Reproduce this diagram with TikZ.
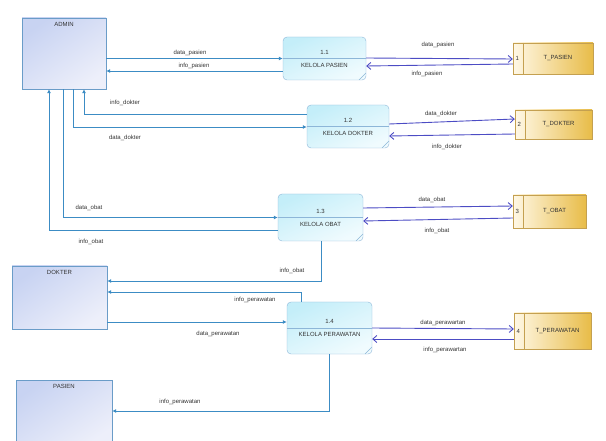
\documentclass[tikz,border=0pt]{standalone}
\usepackage{fontspec}
\setmainfont{Liberation Sans}
\usetikzlibrary{arrows.meta,positioning}
\definecolor{entline}{HTML}{6A9CC8}
\definecolor{enttop}{HTML}{C8D3F2}
\definecolor{entbot}{HTML}{EDEFFA}
\definecolor{procline}{HTML}{8DB6D8}
\definecolor{proctop}{HTML}{C4EEF9}
\definecolor{procbot}{HTML}{F0FBFE}
\definecolor{storeline}{HTML}{C4A050}
\definecolor{storeleft}{HTML}{FFF8E6}
\definecolor{storeright}{HTML}{E8BC48}
\definecolor{flowblue}{HTML}{3C8CC4}
\definecolor{flowpurple}{HTML}{4C4CC4}
\definecolor{txt}{HTML}{333333}
\begin{document}
\begin{tikzpicture}[x=1pt,y=-1pt,
    every node/.style={font=\fontsize{6}{7}\selectfont,text=txt},
    lbl/.style={inner sep=0pt},
    entity/.style={draw=entline,top color=enttop,bottom color=entbot,shading angle=35,inner sep=0pt},
    proc/.style={draw=procline,rounded corners=4pt,top color=proctop,bottom color=procbot,shading angle=25,align=center,inner sep=0pt,
        path picture={
            \draw[procline] (path picture bounding box.west) -- (path picture bounding box.east);
            \draw[procline] ([xshift=-7pt]path picture bounding box.south east) -- ([yshift=7pt]path picture bounding box.south east);}},
    store/.style={draw=storeline,left color=storeleft,right color=storeright,inner sep=0pt,
        path picture={
            \draw[storeline] ([xshift=10pt]path picture bounding box.north west) -- ([xshift=10pt]path picture bounding box.south west);}},
    flow/.style={draw=flowblue,line width=0.8pt,-{Latex[length=4pt,width=4pt]}},
    dflow/.style={draw=flowpurple,line width=0.9pt,-{Straight Barb[length=4pt,width=7pt]}}]
    \useasboundingbox (0,0) rectangle (606,441);

    % external entities
    \node[entity,minimum width=84pt,minimum height=71pt] (admin) at (64,53.5) {};
    \node[lbl,below=4pt of admin.north] (admin_t) {ADMIN};
    \node[entity,minimum width=95pt,minimum height=63pt] (dokter) at (59.5,297.5) {};
    \node[lbl,below=4pt of dokter.north] (dokter_t) {DOKTER};
    \node[entity,minimum width=96pt,minimum height=66pt] (pasien) at (64,413) {};
    \node[lbl,below=4pt of pasien.north] (pasien_t) {PASIEN};

    % processes
    \node[proc,minimum width=83pt,minimum height=43pt] (p1) at (324.5,58.5) {1.1\\[6pt]KELOLA PASIEN};
    \node[proc,minimum width=82pt,minimum height=43pt] (p2) at (348,126.5) {1.2\\[6pt]KELOLA DOKTER};
    \node[proc,minimum width=85pt,minimum height=47pt] (p3) at (320.5,217.5) {1.3\\[6pt]KELOLA OBAT};
    \node[proc,minimum width=85pt,minimum height=52pt] (p4) at (329.5,328) {1.4\\[6pt]KELOLA PERAWATAN};

    % data stores
    \node[store,minimum width=80pt,minimum height=31pt] (s1) at (553,58.5) {\hspace*{10pt}T\_PASIEN};
    \node[lbl,right=2.5pt of s1.west] (s1_n) {1};
    \node[store,minimum width=77pt,minimum height=29pt] (s2) at (553.5,124.5) {\hspace*{10pt}T\_DOKTER};
    \node[lbl,right=2.5pt of s2.west] (s2_n) {2};
    \node[store,minimum width=73pt,minimum height=33pt] (s3) at (549.5,211.5) {\hspace*{10pt}T\_OBAT};
    \node[lbl,right=2.5pt of s3.west] (s3_n) {3};
    \node[store,minimum width=77pt,minimum height=36pt] (s4) at (552.5,331) {\hspace*{10pt}T\_PERAWATAN};
    \node[lbl,right=2.5pt of s4.west] (s4_n) {4};

    % flows on the left
    \draw[flow] (admin.east |- p1.west) -- (p1.west);
    \draw[flow] (p1.west |- 0,71) -- (admin.east |- 0,71);
    \draw[flow] (p2.west |- 0,114) -| (84,0 |- admin.south);
    \draw[flow] (73,0 |- admin.south) |- (p2.west |- 0,127);
    \draw[flow] (63,0 |- admin.south) |- (p3.west);
    \draw[flow] (p3.west |- 0,230) -| (49,0 |- admin.south);
    \draw[flow] (321,0 |- p3.south) |- (dokter.east |- 0,281);
    \draw[flow] (301,0 |- p4.north) |- (dokter.east |- 0,292);
    \draw[flow] (dokter.east |- 0,322) -- (p4.west |- 0,322);
    \draw[flow] (329,0 |- p4.south) |- (pasien.east |- 0,411);

    % flows to the stores
    \draw[dflow] (p1.east |- 0,58) -- (s1.west |- 0,59);
    \draw[dflow] (s1.west |- 0,64) -- (p1.east |- 0,66);
    \draw[dflow] (p2.east |- 0,124) -- (s2.west |- 0,119);
    \draw[dflow] (s2.west |- 0,134) -- (p2.east |- 0,136);
    \draw[dflow] (p3.east |- 0,208) -- (s3.west |- 0,206);
    \draw[dflow] (s3.west |- 0,218) -- (p3.east |- 0,221);
    \draw[dflow] (p4.east |- 0,328) -- (s4.west |- 0,329);
    \draw[dflow] (s4.west |- 0,339) -- (p4.east |- 0,339);

    % flow labels
    \node[lbl] (data_pasien_a) at (190,53) {data\_pasien};
    \node[lbl] (info_pasien_a) at (194,66) {info\_pasien};
    \node[lbl] (info_dokter_a) at (125,103) {info\_dokter};
    \node[lbl] (data_dokter_a) at (125,138) {data\_dokter};
    \node[lbl] (data_obat_a) at (89,208) {data\_obat};
    \node[lbl] (info_obat_a) at (91,242) {info\_obat};
    \node[lbl] (info_obat_d) at (292,271) {info\_obat};
    \node[lbl] (info_perawatan_d) at (255,300) {info\_perawatan};
    \node[lbl] (data_perawatan_d) at (218,334) {data\_perawatan};
    \node[lbl] (info_perawatan_p) at (180,402) {info\_perawatan};
    \node[lbl] (data_pasien_s) at (438,45) {data\_pasien};
    \node[lbl] (info_pasien_s) at (427,74) {info\_pasien};
    \node[lbl] (data_dokter_s) at (441,114) {data\_dokter};
    \node[lbl] (info_dokter_s) at (447,147) {info\_dokter};
    \node[lbl] (data_obat_s) at (432,200) {data\_obat};
    \node[lbl] (info_obat_s) at (437,231) {info\_obat};
    \node[lbl] (data_perawartan_s) at (443,323) {data\_perawartan};
    \node[lbl] (info_perawartan_s) at (445,350) {info\_perawartan};
\end{tikzpicture}
\end{document}
